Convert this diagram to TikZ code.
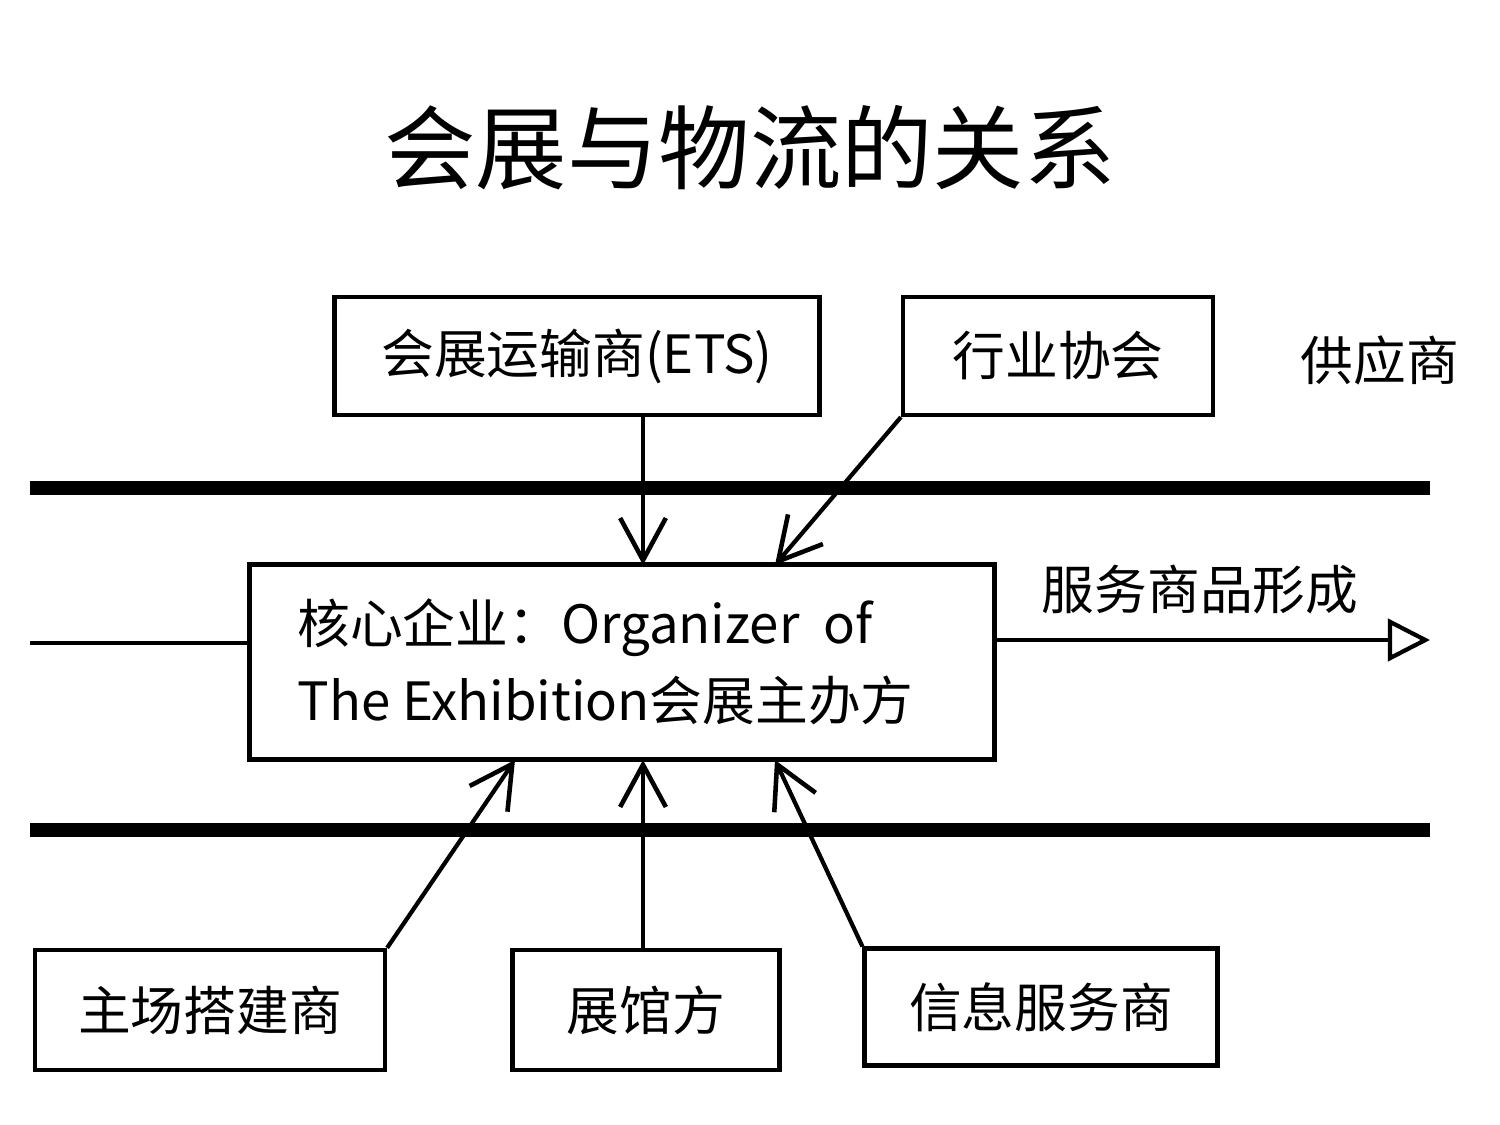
\documentclass[tikz,border=0pt]{standalone}
\usepackage{fontspec}
\newfontfamily\cjk{Noto Sans CJK SC}
\usetikzlibrary{arrows.meta}
\begin{document}
\begin{tikzpicture}[x=0.01cm,y=-0.01cm,
  box/.style={draw,line width=1.2pt,inner sep=0pt},
  thick line/.style={line width=4pt},
  arr/.style={line width=1.2pt,-{Straight Barb[length=12pt,width=13pt,line width=1.3pt]}},
  lbl/.style={font=\cjk\fontsize{15}{18}\selectfont}]
\useasboundingbox (0,0) rectangle (1500,1125);
\node (title) at (750,148) {\cjk\fontsize{26}{30}\selectfont 会展与物流的关系};
\node[box,minimum width=485*0.01cm,minimum height=118*0.01cm,lbl] (ets) at (577,356) {会展运输商(ETS)};
\node[box,minimum width=310*0.01cm,minimum height=118*0.01cm,lbl] (hy) at (1058,356) {行业协会};
\node[lbl] (gys) at (1380,360) {供应商};
\coordinate (t1) at (30,488); \coordinate (t2) at (1430,488);
\draw[thick line] (t1) -- (t2);
\coordinate (b1) at (30,830); \coordinate (b2) at (1430,830);
\draw[thick line] (b1) -- (b2);
\node[box,minimum width=745*0.01cm,minimum height=195*0.01cm] (core) at (622,662) {};
\node[lbl,anchor=west,align=left] (coretext) at (285,662) {核心企业：Organizer\ \ of\\[4pt]The Exhibition会展主办方};
\coordinate (l1) at (30,643);
\draw[line width=1.2pt] (l1) -- (core.west |- l1);
\coordinate (r1) at (1430,640);
\draw[line width=1.2pt,-{Triangle[open,length=12pt,width=12pt,line width=1.2pt]}] (core.east |- r1) -- (r1);
\node[lbl] (fw) at (1200,590) {服务商品形成};
\node[box,minimum width=350*0.01cm,minimum height=120*0.01cm,lbl] (zc) at (210,1010) {主场搭建商};
\node[box,minimum width=267*0.01cm,minimum height=120*0.01cm,lbl] (zg) at (646,1010) {展馆方};
\node[box,minimum width=353*0.01cm,minimum height=117*0.01cm,lbl] (xx) at (1041,1007) {信息服务商};
\draw[arr] (ets.south -| 643,0) -- (643,565);
\draw[arr] (hy.south west) -- (775,565);
\draw[arr] (zc.north east) -- (515,760);
\draw[arr] (zg.north -| 643,0) -- (643,760);
\draw[arr] (xx.north west) -- (775,760);
\end{tikzpicture}
\end{document}
